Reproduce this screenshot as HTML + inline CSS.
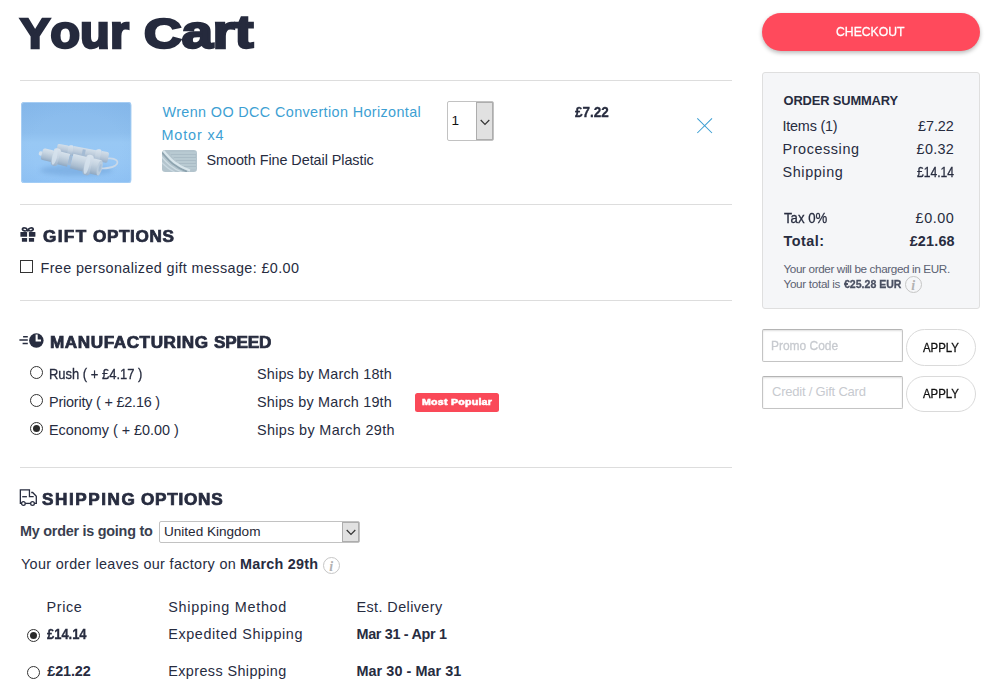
<!DOCTYPE html>
<html lang="en">
<head>
<meta charset="utf-8">
<title>Your Cart</title>
<style>
*{box-sizing:border-box;margin:0;padding:0}
html,body{width:1008px;height:699px;overflow:hidden;background:#fff}
body{font-family:"Liberation Sans",sans-serif;color:#272c3f;font-size:14.4px;position:relative}
.a{position:absolute;white-space:nowrap;line-height:1}
.p{position:absolute}
h1,h2{font-size:inherit;font-weight:inherit}
.cap::first-letter{font-size:.93em}
.hr{position:absolute;left:20px;width:712px;height:1px;background:#dddddd}
.radio{position:absolute;width:13px;height:13px;border:1px solid #333;border-radius:50%;background:#fff}
.radio.on::after{content:"";position:absolute;left:2px;top:2px;width:7px;height:7px;border-radius:50%;background:#2b2b2b}
.badge{position:absolute;left:415px;top:393px;width:84px;height:19px;background:#fa4958;border-radius:2.5px}
.sel{position:absolute;border:1px solid #c2c2c2;border-radius:2px;background:#fff}
.sel .arr{position:absolute;right:0;top:0;bottom:0;width:17px;background:#e1e1e1;border:1px solid #adadad}
.inp{position:absolute;left:762px;width:141px;height:33px;border:1px solid #c4c4c4;border-top-color:#b4b4b4;border-radius:2px;background:#fff;box-shadow:inset 0 1px 2px rgba(0,0,0,.13)}
.apply{position:absolute;left:906px;width:70px;border:1px solid #dadada;border-radius:19px;background:#fff}
.sum{position:absolute;left:762px;top:72px;width:218px;height:237px;background:#f5f6f8;border:1px solid #dfdfdf;border-radius:3px}
.cobtn{position:absolute;left:762px;top:13px;width:218px;height:38px;border-radius:19px;background:#ff4a5c;box-shadow:0 2px 4px rgba(0,0,0,.28)}
.info{position:absolute;width:17px;height:17px;border:1.2px solid #c6c6c6;border-radius:50%;color:#b2b2b2;font:italic bold 14px/17px "Liberation Serif",serif;text-align:center;text-indent:-.5px}
</style>
</head>
<body>
<h1><span class="a cap" style="left:19.75px;top:10.28px;font-size:45.5px;font-weight:700;-webkit-text-stroke:2.4px #252a3d;color:#252a3d;transform:scaleX(1.0733);transform-origin:0 0">Your</span> <span class="a cap" style="left:144.00px;top:10.28px;font-size:45.5px;font-weight:700;-webkit-text-stroke:2.4px #252a3d;color:#252a3d;transform:scaleX(1.2327);transform-origin:0 0">Cart</span></h1>
<div class="hr" style="top:80px"></div>

<svg class="p" style="left:21px;top:101.6px" width="110.5" height="81.3" viewBox="0 0 110 82" preserveAspectRatio="none">
<defs>
<linearGradient id="bgv" x1="0" y1="0" x2="0" y2="1"><stop offset="0" stop-color="#88baec"/><stop offset=".38" stop-color="#8ebfee"/><stop offset=".5" stop-color="#98c8f4"/><stop offset=".75" stop-color="#97c7f5"/><stop offset="1" stop-color="#91c4f6"/></linearGradient>
<radialGradient id="vig" cx=".5" cy=".55" r=".75"><stop offset=".55" stop-color="#6fa4dc" stop-opacity="0"/><stop offset="1" stop-color="#6fa4dc" stop-opacity=".2"/></radialGradient>
<linearGradient id="cyl" x1="0" y1="0" x2="0" y2="1"><stop offset="0" stop-color="#d7e2ec"/><stop offset=".35" stop-color="#c6d4e1"/><stop offset=".75" stop-color="#aabdd0"/><stop offset="1" stop-color="#8fa8c2"/></linearGradient>
<linearGradient id="cyl2" x1="0" y1="0" x2="0" y2="1"><stop offset="0" stop-color="#d3dfea"/><stop offset=".5" stop-color="#bccbdb"/><stop offset="1" stop-color="#96aec8"/></linearGradient>
<linearGradient id="fl" x1="0" y1="0" x2="0" y2="1"><stop offset="0" stop-color="#dae4ee"/><stop offset=".5" stop-color="#c4d2e0"/><stop offset="1" stop-color="#9ab1ca"/></linearGradient>
<filter id="bl" x="-10%" y="-10%" width="120%" height="120%"><feGaussianBlur stdDeviation=".6"/></filter>
<filter id="bl2" x="-20%" y="-50%" width="140%" height="200%"><feGaussianBlur stdDeviation="2.2"/></filter>
<clipPath id="rc"><rect width="110" height="82" rx="3.5"/></clipPath>
</defs>
<g clip-path="url(#rc)">
<rect width="110" height="82" fill="url(#bgv)"/>
<rect width="110" height="82" fill="url(#vig)"/>
<ellipse cx="55" cy="69" rx="36" ry="5.5" fill="#78aadf" opacity=".7" filter="url(#bl2)"/>
<g filter="url(#bl)">
 <!-- wire loop -->
 <path d="M86 57 C94 56 99 60 94 64 C90 67 84 67 76 67" fill="none" stroke="#c9d8e8" stroke-width="1.7"/>
 <!-- back motor -->
 <g transform="translate(35.8 46.4) rotate(10.8)">
  <rect x="0" y="-4.5" width="12" height="9" rx="1.8" fill="url(#cyl2)"/>
  <rect x="11" y="-5.4" width="5.4" height="10.8" rx="2.4" fill="url(#fl)"/>
  <rect x="16" y="-5" width="24" height="10" fill="url(#cyl2)"/>
  <rect x="25.5" y="-3.6" width="3" height="7.2" fill="#a4bbd4"/>
  <rect x="38.6" y="-6.6" width="5.8" height="13.2" rx="2.6" fill="url(#fl)"/>
  <rect x="44" y="-5.5" width="8" height="11" rx="1.8" fill="url(#cyl2)"/>
 </g>
 <!-- front motor -->
 <g transform="translate(18.8 51.7) rotate(13.9)">
  <rect x="-1" y="-2.2" width="4" height="4.4" rx="1.6" fill="#d3e0ec"/>
  <rect x="2" y="-6" width="12" height="12" rx="2.2" fill="url(#cyl)"/>
  <rect x="12.6" y="-9" width="7.4" height="18" rx="3.2" fill="url(#fl)"/>
  <ellipse cx="15.2" cy="0" rx="2.3" ry="8.2" fill="#d6e2ed" opacity=".8"/>
  <rect x="19.5" y="-6.6" width="10" height="13.2" fill="url(#cyl)"/>
  <rect x="29.5" y="-4.6" width="3" height="9.2" fill="#a3bad3"/>
  <rect x="32.5" y="-7.6" width="15" height="15.2" fill="url(#cyl)"/>
  <rect x="45.6" y="-10.5" width="7.8" height="21" rx="3.4" fill="url(#fl)"/>
  <ellipse cx="48.4" cy="0" rx="2.4" ry="9.6" fill="#d6e2ed" opacity=".8"/>
  <rect x="52.8" y="-8" width="8.6" height="16" fill="url(#cyl)"/>
  <ellipse cx="61.3" cy="0" rx="2.5" ry="8" fill="#bccddd"/>
  <ellipse cx="61.7" cy="0" rx="1.2" ry="4" fill="#a9bfd6"/>
 </g>
</g>
<rect x=".5" y=".5" width="109" height="81" rx="3" fill="none" stroke="#b4d6f6" stroke-opacity=".7"/>
</g>
</svg>
<svg class="p" style="left:162px;top:150px" width="35" height="22" viewBox="0 0 35 22">
<defs><clipPath id="sc"><rect width="35" height="22" rx="3.2"/></clipPath>
<filter id="sb" x="-10%" y="-10%" width="120%" height="120%"><feGaussianBlur stdDeviation=".45"/></filter></defs>
<g clip-path="url(#sc)">
<rect width="35" height="22" fill="#b3c4cd"/>
<g filter="url(#sb)">
<path d="M8 3H34M10 6H33M12 9H34M15 12H33M19 15H34M24 18H34" stroke="#c3d3db" stroke-width=".8" opacity=".8"/>
<path d="M9 4.5H34M12 7.5H34M14 10.5H34M17 13.5H34M22 16.5H34" stroke="#a3b6c0" stroke-width=".7" opacity=".8"/>
<path d="M-1 6 C4 12 10 19 22 23" fill="none" stroke="#cfdde4" stroke-width="1.2"/>
<path d="M-1 12 C3 16 8 20 14 23" fill="none" stroke="#c9d8e0" stroke-width="1.3"/>
<path d="M0 2.6 C5 8 10 16 25 21.6" fill="none" stroke="#8da3af" stroke-width="1.7"/>
<path d="M1.5 1 C7 7 12 15 28 20.4" fill="none" stroke="#d9e6ec" stroke-width="2.1"/>
</g>
</g>
</svg>

<div class="sel" style="left:447px;top:101px;width:47px;height:40px"><div class="arr"><svg class="p" style="left:3px;top:16px" width="10" height="7" viewBox="0 0 10 7"><path d="M.7 1 L5 5.3 L9.3 1" stroke="#333" stroke-width="1.2" fill="none"/></svg></div></div>
<svg class="p" style="left:696px;top:117px" width="18" height="17" viewBox="0 0 18 17"><path d="M1.3 1.3 L16 16 M16 1.3 L1.3 16" stroke="#3d9fd3" stroke-width="1.05" fill="none"/></svg>
<div class="hr" style="top:204px"></div>

<svg class="p" style="left:20px;top:226px" width="16" height="17" viewBox="0 0 16 17"><g fill="#272c3f"><rect x=".4" y="6.1" width="6.7" height="4.6" rx=".5"/><rect x="8.9" y="6.1" width="6.5" height="4.6" rx=".5"/><rect x="1.9" y="12.1" width="5.2" height="3.7" rx=".3"/><rect x="8.9" y="12.1" width="5.2" height="3.7" rx=".3"/><circle cx="7.8" cy="4.6" r="1.15"/></g><g fill="none" stroke="#272c3f" stroke-width="1.65"><ellipse cx="4.7" cy="3.4" rx="2.35" ry="1.5" transform="rotate(12 4.7 3.4)"/><ellipse cx="10.9" cy="3.4" rx="2.35" ry="1.5" transform="rotate(-12 10.9 3.4)"/></g></svg>
<h2><span class="a" style="left:42.50px;top:228.84px;font-size:15.6px;font-weight:700;letter-spacing:1.24px;-webkit-text-stroke:0.7px #272c3f;color:#272c3f;transform:scaleX(1.1000);transform-origin:0 0">GIFT</span> <span class="a" style="left:92.50px;top:228.84px;font-size:15.6px;font-weight:700;letter-spacing:0.55px;-webkit-text-stroke:0.7px #272c3f;color:#272c3f;transform:scaleX(1.1000);transform-origin:0 0">OPTIONS</span></h2>
<div class="p" style="left:20px;top:260px;width:13px;height:13px;border:1px solid #333;background:#fff"></div>
<div class="hr" style="top:300px"></div>

<svg class="p" style="left:19px;top:333px" width="26" height="16" viewBox="0 0 26 16"><circle cx="17.35" cy="7.55" r="7.25" fill="#272c3f"/><path d="M17.65 1.6V7.45H22" fill="none" stroke="#fff" stroke-width="2.1"/><path d="M4.1 3.8H8.8M.4 7.05H8.8M3.6 10.4H8.8" fill="none" stroke="#272c3f" stroke-width="1.5"/></svg>
<h2><span class="a" style="left:50.00px;top:335.44px;font-size:15.6px;font-weight:700;letter-spacing:0.50px;-webkit-text-stroke:0.7px #272c3f;color:#272c3f;transform:scaleX(1.1000);transform-origin:0 0">MANUFACTURING</span> <span class="a" style="left:213.50px;top:335.44px;font-size:15.6px;font-weight:700;letter-spacing:-0.16px;-webkit-text-stroke:0.7px #272c3f;color:#272c3f;transform:scaleX(1.1000);transform-origin:0 0">SPEED</span></h2>
<div class="radio" style="left:30px;top:366px"></div>
<div class="radio" style="left:30px;top:394px"></div>
<div class="radio on" style="left:30px;top:422px"></div>
<div class="badge"></div>
<div class="a" style="left:422.00px;top:398.28px;font-size:8.8px;font-weight:700;letter-spacing:0.20px;-webkit-text-stroke:0.55px #ffffff;color:#ffffff;transform:scaleX(1.2069);transform-origin:0 0">Most Popular</div>
<div class="hr" style="top:467px"></div>

<svg class="p" style="left:19px;top:488px" width="19" height="19" viewBox="0 0 19 19"><g fill="none" stroke="#272c3f" stroke-width="1.3" stroke-linejoin="miter"><path d="M2.5 15.4H1.35V1.85H10.45V8.7H14.7"/><path d="M12.2 4.5H13.7L17.3 8.3V15.4H15.4"/><path d="M6.3 15.4H11.6"/><path d="M3.2 8.7H7.9"/><circle cx="4.4" cy="15.5" r="1.85"/><circle cx="13.5" cy="15.5" r="1.85"/></g></svg>
<h2><span class="a" style="left:41.75px;top:492.04px;font-size:15.6px;font-weight:700;letter-spacing:1.40px;-webkit-text-stroke:0.7px #272c3f;color:#272c3f;transform:scaleX(1.1000);transform-origin:0 0">SHIPPING</span> <span class="a" style="left:141.00px;top:492.04px;font-size:15.6px;font-weight:700;letter-spacing:0.68px;-webkit-text-stroke:0.7px #272c3f;color:#272c3f;transform:scaleX(1.1000);transform-origin:0 0">OPTIONS</span></h2>
<div class="sel" style="left:159px;top:521px;width:201px;height:22px"><div class="arr"><svg class="p" style="left:3px;top:6px" width="10" height="7" viewBox="0 0 10 7"><path d="M.7 1 L5 5.3 L9.3 1" stroke="#333" stroke-width="1.2" fill="none"/></svg></div></div>
<div class="info" style="left:323px;top:557px">i</div>
<div class="radio on" style="left:27px;top:629px"></div>
<div class="radio" style="left:27px;top:666px"></div>

<div class="cobtn"></div>
<div class="sum"></div>
<div class="info" style="left:905px;top:276px">i</div>
<div class="inp" style="top:329px"></div><div class="apply" style="top:329px;height:37px"></div>
<div class="inp" style="top:376px"></div><div class="apply" style="top:376px;height:36px"></div>

<div class="a" style="left:162.50px;top:104.81px;font-size:14.4px;letter-spacing:0.37px;color:#3d9fd3">Wrenn OO DCC Convertion Horizontal</div>
<div class="a" style="left:161.50px;top:127.81px;font-size:14.4px;letter-spacing:0.86px;color:#3d9fd3">Motor x4</div>
<div class="a" style="left:206.50px;top:152.81px;font-size:14.4px;letter-spacing:-0.06px;color:#272c3f">Smooth Fine Detail Plastic</div>
<div class="a" style="left:451.50px;top:114.49px;font-size:13.6px;color:#111">1</div>
<div class="a" style="left:575.00px;top:104.81px;font-size:14.4px;font-weight:700;color:#272c3f;-webkit-text-stroke:0.3px;transform:scaleX(0.939);transform-origin:0 0">£7.22</div>
<div class="a" style="left:836.00px;top:24.83px;font-size:13.2px;color:#fff;-webkit-text-stroke:0.3px;transform:scaleX(0.926);transform-origin:0 0">CHECKOUT</div>
<div class="a" style="left:783.50px;top:95.08px;font-size:12.9px;letter-spacing:-0.14px;font-weight:700;color:#272c3f">ORDER SUMMARY</div>
<div class="a" style="left:782.50px;top:118.81px;font-size:14.4px;letter-spacing:-0.21px;color:#272c3f">Items (1)</div>
<div class="a" style="left:918.10px;top:118.81px;font-size:14.4px;letter-spacing:-0.08px;color:#272c3f">£7.22</div>
<div class="a" style="left:782.50px;top:141.81px;font-size:14.4px;letter-spacing:0.59px;color:#272c3f">Processing</div>
<div class="a" style="left:916.60px;top:141.81px;font-size:14.4px;letter-spacing:0.30px;color:#272c3f">£0.32</div>
<div class="a" style="left:782.50px;top:164.81px;font-size:14.4px;letter-spacing:0.61px;color:#272c3f">Shipping</div>
<div class="a" style="left:916.60px;top:164.81px;font-size:14.4px;color:#272c3f;-webkit-text-stroke:0.3px;transform:scaleX(0.843);transform-origin:0 0">£14.14</div>
<div class="a" style="left:783.50px;top:210.81px;font-size:14.4px;color:#272c3f;-webkit-text-stroke:0.3px;transform:scaleX(0.918);transform-origin:0 0">Tax 0%</div>
<div class="a" style="left:915.60px;top:210.81px;font-size:14.4px;letter-spacing:0.55px;color:#272c3f">£0.00</div>
<div class="a" style="left:783.50px;top:233.81px;font-size:14.4px;letter-spacing:0.50px;font-weight:700;color:#272c3f">Total:</div>
<div class="a" style="left:909.70px;top:233.81px;font-size:14.4px;letter-spacing:0.18px;font-weight:700;color:#272c3f">£21.68</div>
<div class="a" style="left:783.50px;top:263.10px;font-size:11.7px;letter-spacing:-0.37px;color:#5b6172">Your order will be charged in EUR.</div>
<div class="a" style="left:783.50px;top:278.10px;font-size:11.7px;letter-spacing:-0.31px;color:#5b6172">Your total is</div>
<div class="a" style="left:844.00px;top:278.10px;font-size:11.7px;font-weight:700;color:#4a5062;-webkit-text-stroke:0.3px;transform:scaleX(0.903);transform-origin:0 0">€25.28 EUR</div>
<div class="a" style="left:771.00px;top:339.00px;font-size:13px;color:#c7cacf;-webkit-text-stroke:0.3px;transform:scaleX(0.920);transform-origin:0 0">Promo Code</div>
<div class="a" style="left:922.50px;top:342.33px;font-size:12.6px;color:#111;-webkit-text-stroke:0.3px;transform:scaleX(0.906);transform-origin:0 0">APPLY</div>
<div class="a" style="left:772.00px;top:385.00px;font-size:13px;letter-spacing:-0.21px;color:#c7cacf">Credit / Gift Card</div>
<div class="a" style="left:922.50px;top:388.33px;font-size:12.6px;color:#111;-webkit-text-stroke:0.3px;transform:scaleX(0.906);transform-origin:0 0">APPLY</div>
<div class="a" style="left:40.50px;top:260.81px;font-size:14.4px;letter-spacing:0.38px;color:#272c3f">Free personalized gift message: £0.00</div>
<div class="a" style="left:49.00px;top:366.81px;font-size:14.4px;color:#272c3f;-webkit-text-stroke:0.3px;transform:scaleX(0.901);transform-origin:0 0">Rush ( + £4.17 )</div>
<div class="a" style="left:257.00px;top:366.81px;font-size:14.4px;letter-spacing:0.20px;color:#272c3f">Ships by March 18th</div>
<div class="a" style="left:49.00px;top:394.81px;font-size:14.4px;letter-spacing:-0.19px;color:#272c3f">Priority ( + £2.16 )</div>
<div class="a" style="left:257.00px;top:394.81px;font-size:14.4px;letter-spacing:0.20px;color:#272c3f">Ships by March 19th</div>
<div class="a" style="left:49.00px;top:422.81px;font-size:14.4px;letter-spacing:-0.01px;color:#272c3f">Economy ( + £0.00 )</div>
<div class="a" style="left:257.00px;top:422.81px;font-size:14.4px;letter-spacing:0.35px;color:#272c3f">Ships by March 29th</div>
<div class="a" style="left:20.00px;top:523.81px;font-size:14.4px;letter-spacing:-0.25px;font-weight:700;color:#3a3f4f">My order is going to</div>
<div class="a" style="left:164.00px;top:525.49px;font-size:13.6px;letter-spacing:-0.02px;color:#1f2736">United Kingdom</div>
<div class="a" style="left:21.00px;top:556.81px;font-size:14.4px;letter-spacing:0.34px;color:#272c3f">Your order leaves our factory on</div>
<div class="a" style="left:240.00px;top:556.81px;font-size:14.4px;letter-spacing:0.23px;font-weight:700;color:#272c3f">March 29th</div>
<div class="a" style="left:46.50px;top:599.81px;font-size:14.4px;letter-spacing:0.62px;color:#272c3f">Price</div>
<div class="a" style="left:168.25px;top:599.81px;font-size:14.4px;letter-spacing:0.72px;color:#272c3f">Shipping Method</div>
<div class="a" style="left:356.50px;top:599.81px;font-size:14.4px;letter-spacing:0.41px;color:#272c3f">Est. Delivery</div>
<div class="a" style="left:47.25px;top:626.81px;font-size:14.4px;font-weight:700;color:#272c3f;-webkit-text-stroke:0.3px;transform:scaleX(0.899);transform-origin:0 0">£14.14</div>
<div class="a" style="left:168.25px;top:626.81px;font-size:14.4px;letter-spacing:0.60px;color:#272c3f">Expedited Shipping</div>
<div class="a" style="left:356.50px;top:626.81px;font-size:14.4px;letter-spacing:-0.32px;font-weight:700;color:#272c3f">Mar 31 - Apr 1</div>
<div class="a" style="left:47.25px;top:663.81px;font-size:14.4px;letter-spacing:-0.11px;font-weight:700;color:#272c3f">£21.22</div>
<div class="a" style="left:168.25px;top:663.81px;font-size:14.4px;letter-spacing:0.40px;color:#272c3f">Express Shipping</div>
<div class="a" style="left:356.50px;top:663.81px;font-size:14.4px;letter-spacing:0.06px;font-weight:700;color:#272c3f">Mar 30 - Mar 31</div>

</body>
</html>
